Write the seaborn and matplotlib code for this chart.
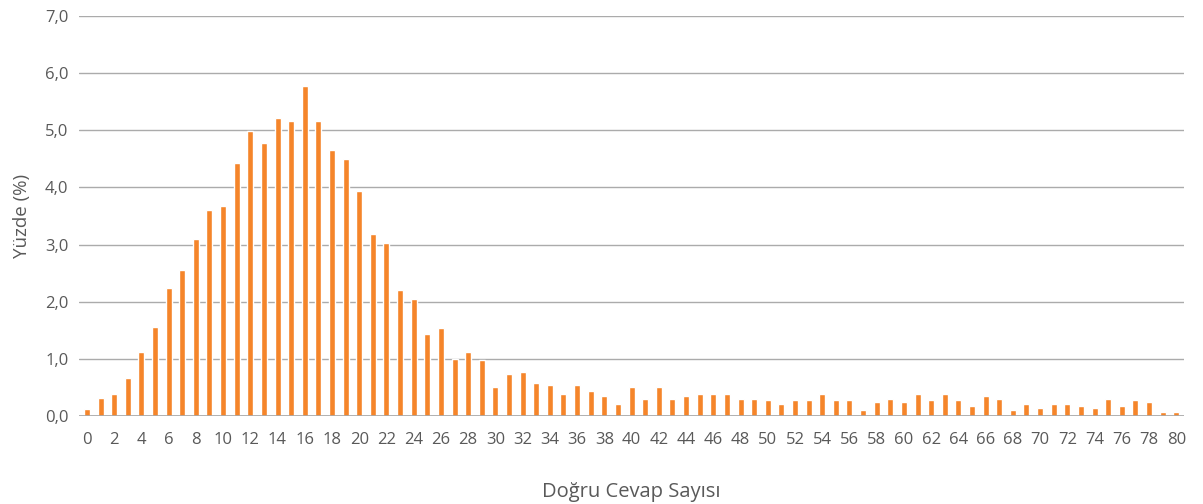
import numpy as np
import pandas as pd
import matplotlib
matplotlib.use("Agg")
import matplotlib.pyplot as plt
from matplotlib.ticker import FuncFormatter
import seaborn as sns

# correct answers 0..80 and percentage of students
dogru = list(range(0, 81))
yuzde = [0.12, 0.31, 0.38, 0.67, 1.12, 1.56, 2.24, 2.56, 3.09, 3.61,
         3.67, 4.42, 4.98, 4.78, 5.21, 5.17, 5.77, 5.17, 4.65, 4.49,
         3.93, 3.19, 3.02, 2.21, 2.05, 1.44, 1.54, 1.00, 1.11, 0.97,
         0.51, 0.74, 0.77, 0.57, 0.54, 0.38, 0.54, 0.44, 0.34, 0.20,
         0.51, 0.30, 0.51, 0.30, 0.34, 0.38, 0.38, 0.38, 0.30, 0.30,
         0.27, 0.20, 0.27, 0.27, 0.38, 0.27, 0.27, 0.11, 0.24, 0.30,
         0.24, 0.38, 0.27, 0.38, 0.27, 0.17, 0.34, 0.30, 0.11, 0.20,
         0.14, 0.20, 0.20, 0.17, 0.14, 0.30, 0.17, 0.27, 0.24, 0.07,
         0.07]

df = pd.DataFrame({"dogru": dogru, "yuzde": yuzde})

sns.set_style("white")
plt.rcParams['font.family'] = ['Open Sans', 'DejaVu Sans']
txt = '#595959'

fig = plt.figure(figsize=(12.03, 5.04), dpi=100)
ax = fig.add_axes([0.066, 0.175, 0.918, 0.793])

sns.barplot(data=df, x="dogru", y="yuzde", order=dogru, color="#F5852A",
            saturation=1, width=0.44, ax=ax, zorder=3)

ax.set_ylim(0, 7)
ax.set_yticks(np.arange(0, 8, 1))
ax.yaxis.set_major_formatter(FuncFormatter(lambda v, p: f"{v:.1f}".replace('.', ',')))
ax.set_xticks(range(0, 81, 2))
ax.set_xticklabels([str(d) for d in dogru[::2]])
ax.set_xlim(-0.55, 80.55)

ax.grid(axis='y', color='#ababab', linewidth=1, zorder=0)
for s in ax.spines.values():
    s.set_visible(False)
ax.axhline(0, color='#a6a6a6', linewidth=1.2, zorder=4)

ax.tick_params(axis='both', length=0, labelsize=12, labelcolor=txt)
ax.tick_params(axis='x', pad=12)
ax.tick_params(axis='y', pad=8)
ax.set_xlabel("Doğru Cevap Sayısı", fontsize=14.5, color=txt, labelpad=24)
ax.set_ylabel("Yüzde (%)", fontsize=13.5, color=txt, labelpad=10)

fig.savefig("out.png", dpi=100)
